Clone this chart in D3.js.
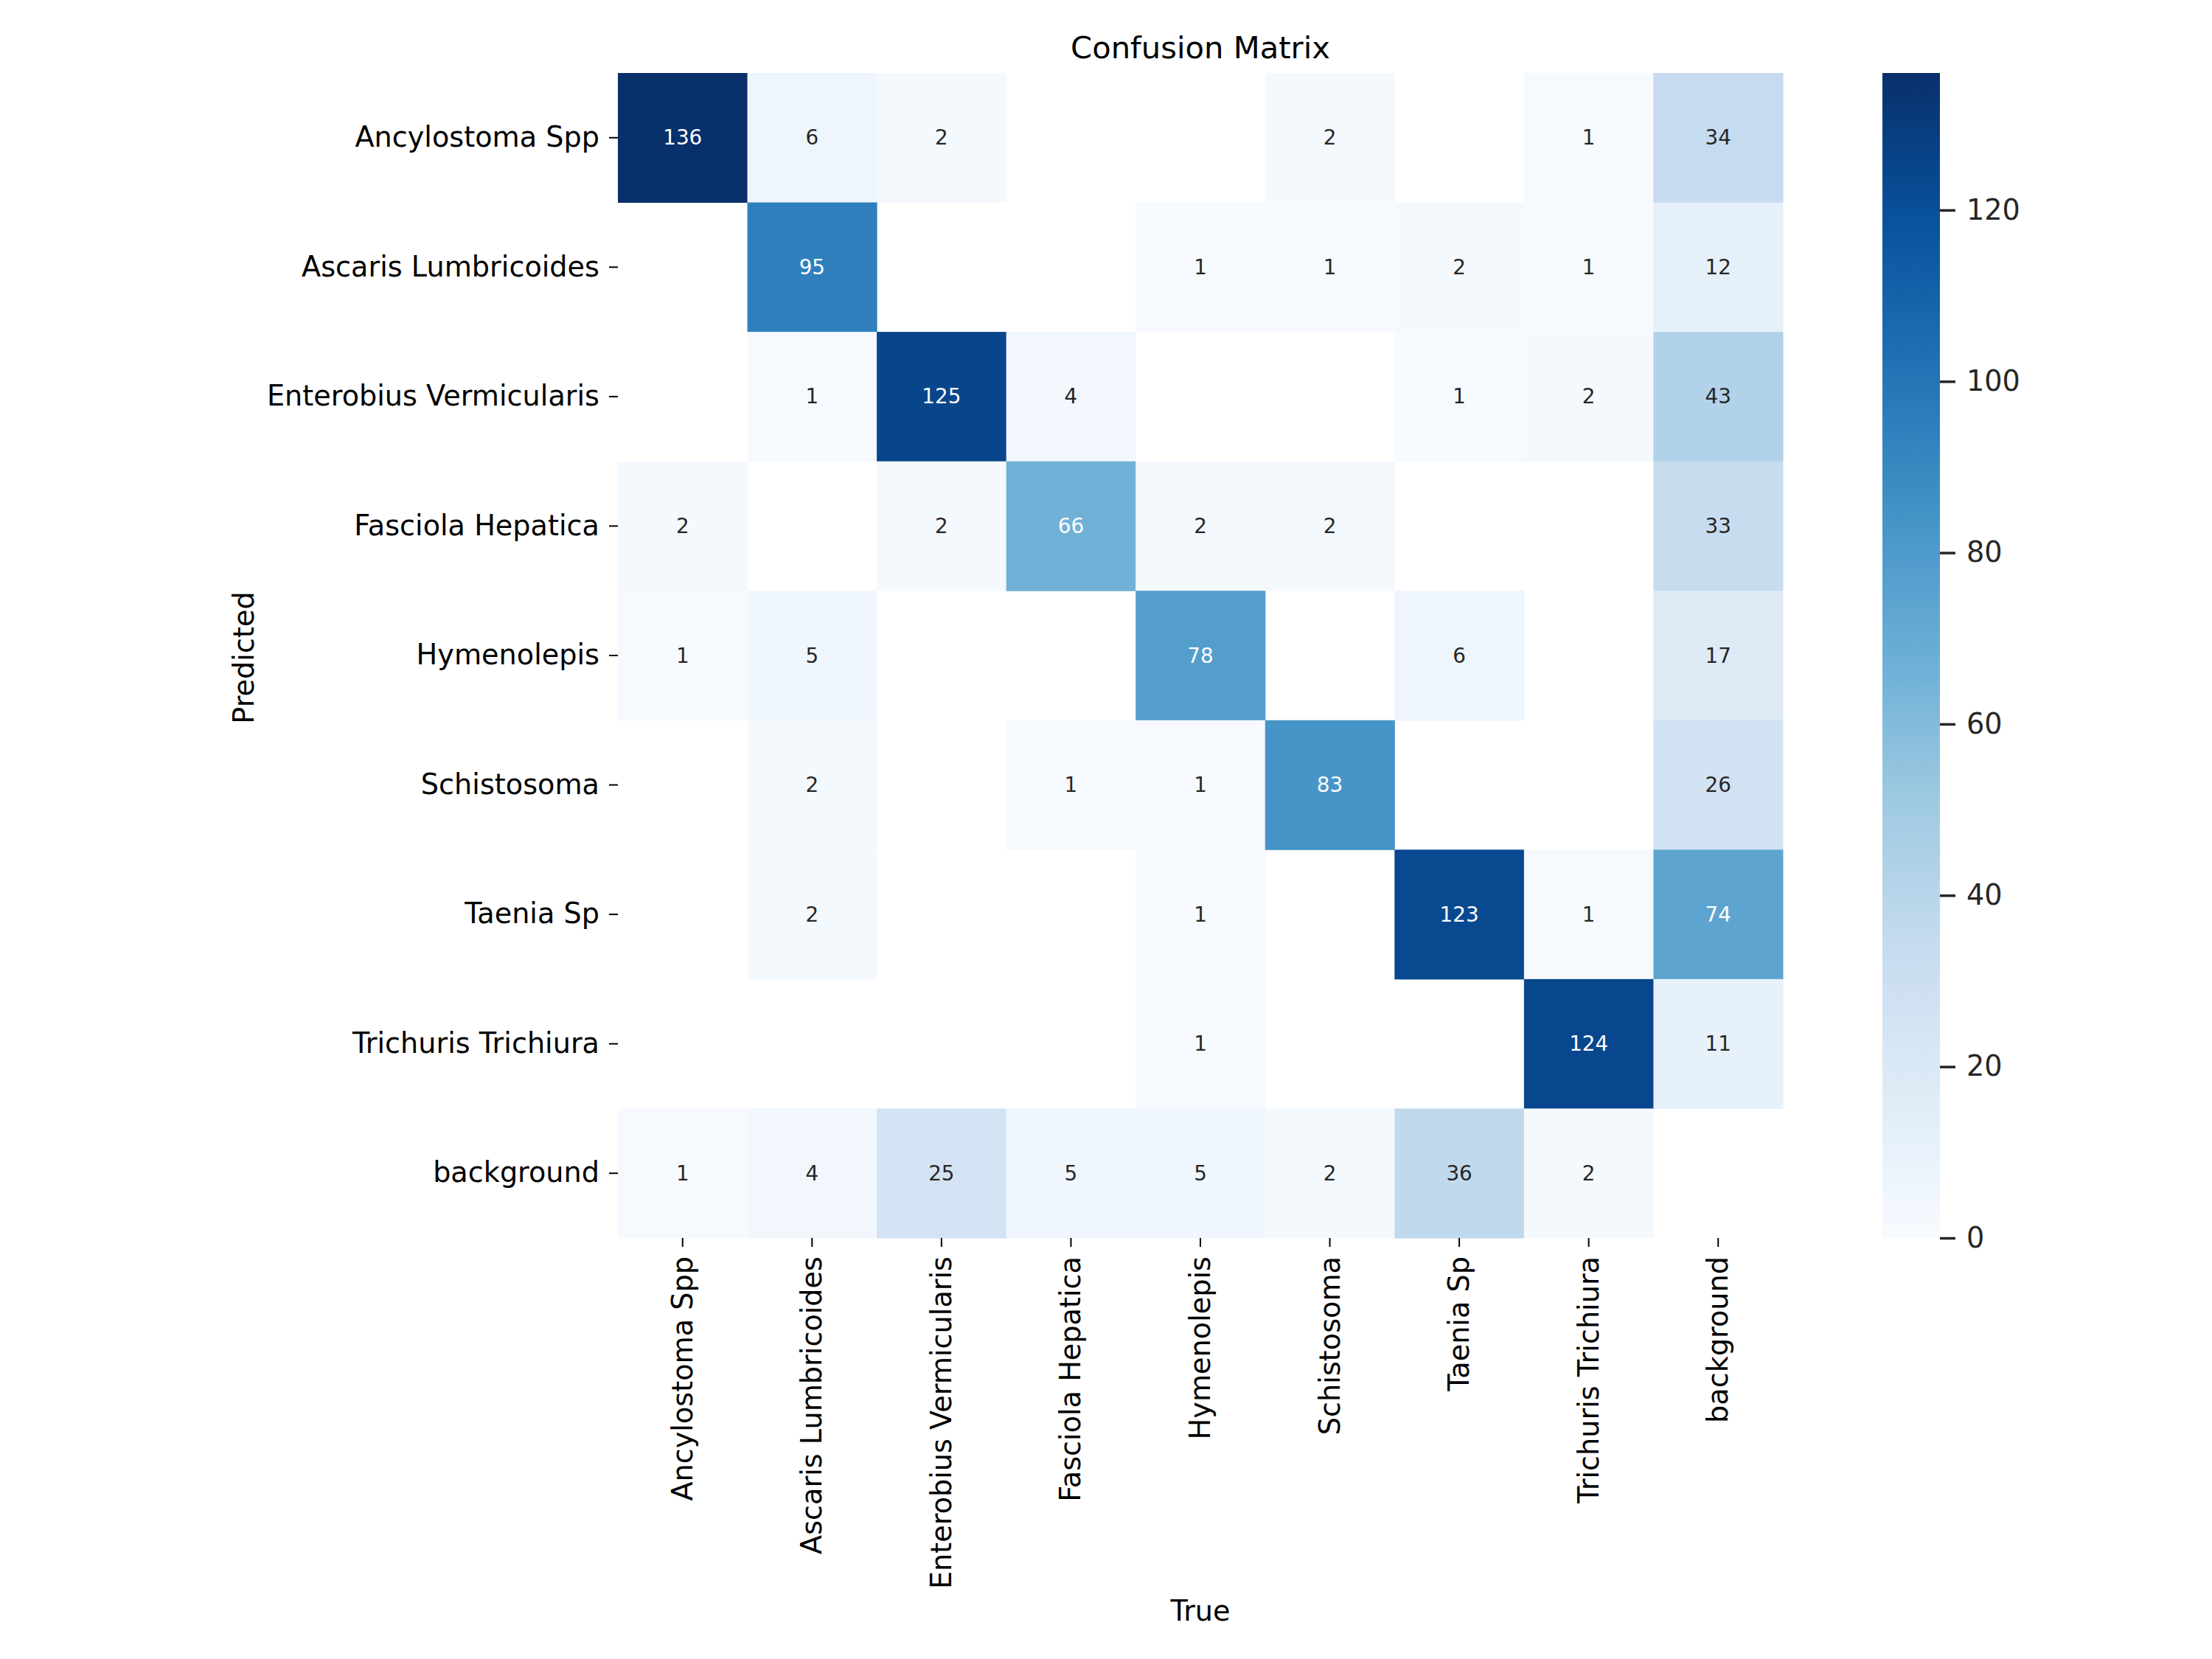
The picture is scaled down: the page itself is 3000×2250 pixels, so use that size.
<!DOCTYPE html>
<html>
<head>
<meta charset="utf-8">
<script src="https://cdn.jsdelivr.net/npm/d3@7"></script>
<style>
  html, body { margin: 0; padding: 0; background: #fff; }
  svg { display: block; font-family: "DejaVu Sans", sans-serif; }
</style>
</head>
<body>
<svg id="chart" width="3000" height="2250"></svg>
<script>
// class names, same order on both axes
var classes = [
	'Ancylostoma Spp', 'Ascaris Lumbricoides', 'Enterobius Vermicularis',
	'Fasciola Hepatica', 'Hymenolepis', 'Schistosoma', 'Taenia Sp',
	'Trichuris Trichiura', 'background'
];

// rows = predicted, columns = true (0 = empty cell)
var counts = [
	[136,  6,   2,  0,  0,  2,   0,   1, 34],
	[  0, 95,   0,  0,  1,  1,   2,   1, 12],
	[  0,  1, 125,  4,  0,  0,   1,   2, 43],
	[  2,  0,   2, 66,  2,  2,   0,   0, 33],
	[  1,  5,   0,  0, 78,  0,   6,   0, 17],
	[  0,  2,   0,  1,  1, 83,   0,   0, 26],
	[  0,  2,   0,  0,  1,  0, 123,   1, 74],
	[  0,  0,   0,  0,  1,  0,   0, 124, 11],
	[  1,  4,  25,  5,  5,  2,  36,   2,  0]
];

var colorTicks = [0, 20, 40, 60, 80, 100, 120];

// matplotlib "Blues" anchor colours
var blues = ['#f7fbff', '#deebf7', '#c6dbef', '#9ecae1', '#6baed6',
	'#4292c6', '#2171b5', '#08519c', '#08306b'];

(function() {
	var svg = d3.select('#chart');

	var plotLeft = 838, plotTop = 99, size = 1580;
	var vmax = d3.max(counts, function(r) { return d3.max(r); });

	var x = d3.scaleBand().domain(classes).range([plotLeft, plotLeft + size]);
	var y = d3.scaleBand().domain(classes).range([plotTop, plotTop + size]);

	var color = d3.scaleLinear()
		.domain(blues.map(function(d, i) { return i * vmax / (blues.length - 1); }))
		.range(blues)
		.interpolate(d3.interpolateRgb)
		.clamp(true);

	// seaborn picks annotation colour from relative luminance
	function luminance(c) {
		var rgb = d3.rgb(c);
		var lin = [rgb.r, rgb.g, rgb.b].map(function(v) {
			v = v / 255;
			return v <= 0.03928 ? v / 12.92 : Math.pow((v + 0.055) / 1.055, 2.4);
		});
		return 0.2126 * lin[0] + 0.7152 * lin[1] + 0.0722 * lin[2];
	}

	var cells = [];
	counts.forEach(function(row, i) {
		row.forEach(function(v, j) {
			if (v > 0) cells.push({ pred: classes[i], truth: classes[j], value: v });
		});
	});

	svg.append('g').selectAll('rect')
		.data(cells)
		.enter().append('rect')
		.attr('x', function(d) { return x(d.truth); })
		.attr('y', function(d) { return y(d.pred); })
		.attr('width', x.bandwidth() + 0.5)
		.attr('height', y.bandwidth() + 0.5)
		.attr('fill', function(d) { return color(d.value); });

	svg.append('g').selectAll('text')
		.data(cells)
		.enter().append('text')
		.attr('x', function(d) { return x(d.truth) + x.bandwidth() / 2; })
		.attr('y', function(d) { return y(d.pred) + y.bandwidth() / 2; })
		.attr('text-anchor', 'middle')
		.attr('dominant-baseline', 'central')
		.attr('font-size', 27.8)
		.attr('fill', function(d) { return luminance(color(d.value)) > 0.408 ? '#262626' : '#ffffff'; })
		.text(function(d) { return d.value; });

	// axes
	var yAxis = svg.append('g')
		.attr('transform', 'translate(' + plotLeft + ',0)')
		.call(d3.axisLeft(y).tickSize(12).tickPadding(13));
	yAxis.select('.domain').remove();
	yAxis.selectAll('line').attr('stroke', '#000').attr('stroke-width', 2);
	yAxis.selectAll('text').attr('font-size', 38.2).attr('fill', '#000')
		.attr('font-family', '"DejaVu Sans", sans-serif');

	var xAxis = svg.append('g')
		.attr('transform', 'translate(0,' + (plotTop + size) + ')')
		.call(d3.axisBottom(x).tickSize(12).tickPadding(13));
	xAxis.select('.domain').remove();
	xAxis.selectAll('line').attr('stroke', '#000').attr('stroke-width', 2);
	xAxis.selectAll('text')
		.attr('font-size', 38.2).attr('fill', '#000')
		.attr('font-family', '"DejaVu Sans", sans-serif')
		.attr('text-anchor', 'end')
		.attr('dy', null)
		.attr('dominant-baseline', 'central')
		.attr('x', 0).attr('y', 0)
		.attr('transform', 'translate(0,25) rotate(-90)');

	// titles
	svg.append('text')
		.attr('x', plotLeft + size / 2).attr('y', 79)
		.attr('text-anchor', 'middle')
		.attr('font-size', 41.7).attr('fill', '#000')
		.text('Confusion Matrix');

	svg.append('text')
		.attr('x', plotLeft + size / 2).attr('y', 2198)
		.attr('text-anchor', 'middle')
		.attr('font-size', 38.2).attr('fill', '#000')
		.text('True');

	svg.append('text')
		.attr('transform', 'translate(344,' + (plotTop + size / 2 + 3) + ') rotate(-90)')
		.attr('text-anchor', 'middle')
		.attr('font-size', 38.2).attr('fill', '#000')
		.text('Predicted');

	// colour bar
	var cbX = 2553, cbW = 78;
	var cbScale = d3.scaleLinear().domain([0, vmax]).range([plotTop + size, plotTop]);

	var grad = svg.append('defs').append('linearGradient')
		.attr('id', 'cbGrad')
		.attr('x1', 0).attr('y1', 1).attr('x2', 0).attr('y2', 0);
	grad.selectAll('stop')
		.data(d3.range(0, 1.0001, 0.02))
		.enter().append('stop')
		.attr('offset', function(d) { return d; })
		.attr('stop-color', function(d) { return color(d * vmax); });

	svg.append('rect')
		.attr('x', cbX).attr('y', plotTop)
		.attr('width', cbW).attr('height', size)
		.attr('fill', 'url(#cbGrad)');

	var cbAxis = svg.append('g')
		.attr('transform', 'translate(' + (cbX + cbW) + ',0)')
		.call(d3.axisRight(cbScale).tickValues(colorTicks).tickSize(21).tickPadding(15));
	cbAxis.select('.domain').remove();
	cbAxis.selectAll('line').attr('stroke', '#262626').attr('stroke-width', 3.5);
	cbAxis.selectAll('text').attr('font-size', 38.2).attr('fill', '#262626')
		.attr('font-family', '"DejaVu Sans", sans-serif');
})();
</script>
</body>
</html>
